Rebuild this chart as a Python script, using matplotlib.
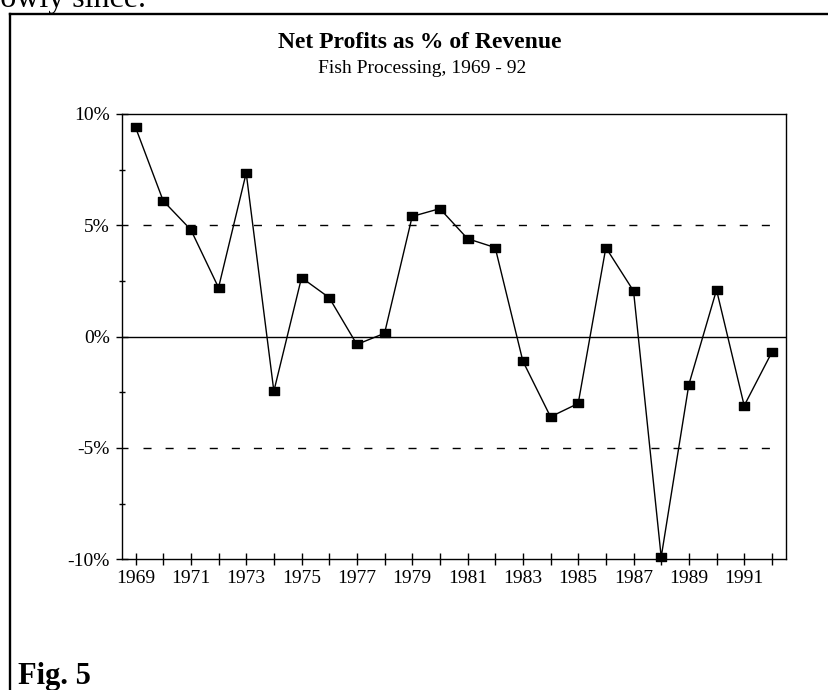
import matplotlib
matplotlib.use("Agg")
import matplotlib.pyplot as plt
from matplotlib.lines import Line2D
from matplotlib.path import Path

# ---- data ----
years = list(range(1969, 1993))
profit_pct = [9.4, 6.1, 4.8, 2.2, 7.35, -2.45, 2.65, 1.75, -0.35, 0.15,
              5.4, 5.75, 4.4, 4.0, -1.1, -3.6, -3.0, 4.0, 2.05, -9.9,
              -2.15, 2.1, -3.1, -0.7]
y_ticks = [-10, -5, 0, 5, 10]
y_tick_labels = ["-10%", "-5%", "0%", "5%", "10%"]
y_minor_ticks = [-7.5, -2.5, 2.5, 7.5]
x_tick_labels = [str(y) if y % 2 == 1 else "" for y in years]
title = "Net Profits as % of Revenue"
subtitle = "Fish Processing, 1969 - 92"
fig_label = "Fig. 5"
clipped_text = "slowly since."

plt.rcParams["font.family"] = ["Liberation Serif", "DejaVu Serif"]

W, H = 829, 690
fig = plt.figure(figsize=(W / 100, H / 100), dpi=100)
ax = fig.add_axes([121.7 / W, 1 - 559.3 / H, (785.7 - 121.7) / W, (559.3 - 114) / H])

# reference lines
ax.axhline(0, color="black", lw=1.0, zorder=1)
for v in (5, -5):
    ax.axhline(v, xmin=0.032, xmax=0.99, color="black", lw=1.0,
               dashes=(5.8, 10.1), zorder=1)

# rectangular marker (wider than tall)
rect = Path([(-1.2, -1.0), (1.2, -1.0), (1.2, 1.0), (-1.2, 1.0), (-1.2, -1.0)],
            [Path.MOVETO, Path.LINETO, Path.LINETO, Path.LINETO, Path.CLOSEPOLY])
ax.plot(years, profit_pct, color="black", lw=1.0, marker=rect, markersize=7.4,
        markerfacecolor="black", markeredgecolor="black", zorder=3, clip_on=False)

ax.set_xlim(1968.5, 1992.5)
ax.set_ylim(-10, 10)
ax.set_yticks(y_ticks)
ax.set_yticklabels(y_tick_labels)
ax.set_yticks(y_minor_ticks, minor=True)
ax.set_xticks(years)
ax.set_xticklabels(x_tick_labels)

ax.tick_params(axis="both", which="major", direction="inout", length=9.2,
               width=1.0, labelsize=14, color="black")
ax.tick_params(axis="y", which="major", pad=4)
ax.tick_params(axis="x", which="major", pad=3)
ax.tick_params(axis="y", which="minor", direction="inout", length=5, width=1.0)
ax.tick_params(axis="x", which="minor", bottom=False)
for s in ax.spines.values():
    s.set_linewidth(1.0)
    s.set_color("black")

# titles
fig.text(420 / W, 1 - 48 / H, title, ha="center", va="baseline",
         fontsize=17, fontweight="bold")
fig.text(422 / W, 1 - 73.3 / H, subtitle, ha="center", va="baseline", fontsize=14)

# figure label
fig.text(18 / W, 1 - 684 / H, fig_label, ha="left", va="baseline",
         fontsize=22, fontweight="bold")

# clipped text at the very top (only its lower part shows, as in the source page)
fig.text(146 / W, 1 - 7.5 / H, clipped_text, ha="right", va="baseline", fontsize=23)

# border box lines
fig.add_artist(Line2D([10.5 / W, 10.5 / W], [0, 1 - 14.3 / H], color="black",
                      lw=1.7, transform=fig.transFigure, solid_capstyle="projecting"))
fig.add_artist(Line2D([10.5 / W, 1.0], [1 - 14.3 / H, 1 - 14.3 / H], color="black",
                      lw=1.7, transform=fig.transFigure, solid_capstyle="projecting"))

fig.savefig("out.png", dpi=100)
